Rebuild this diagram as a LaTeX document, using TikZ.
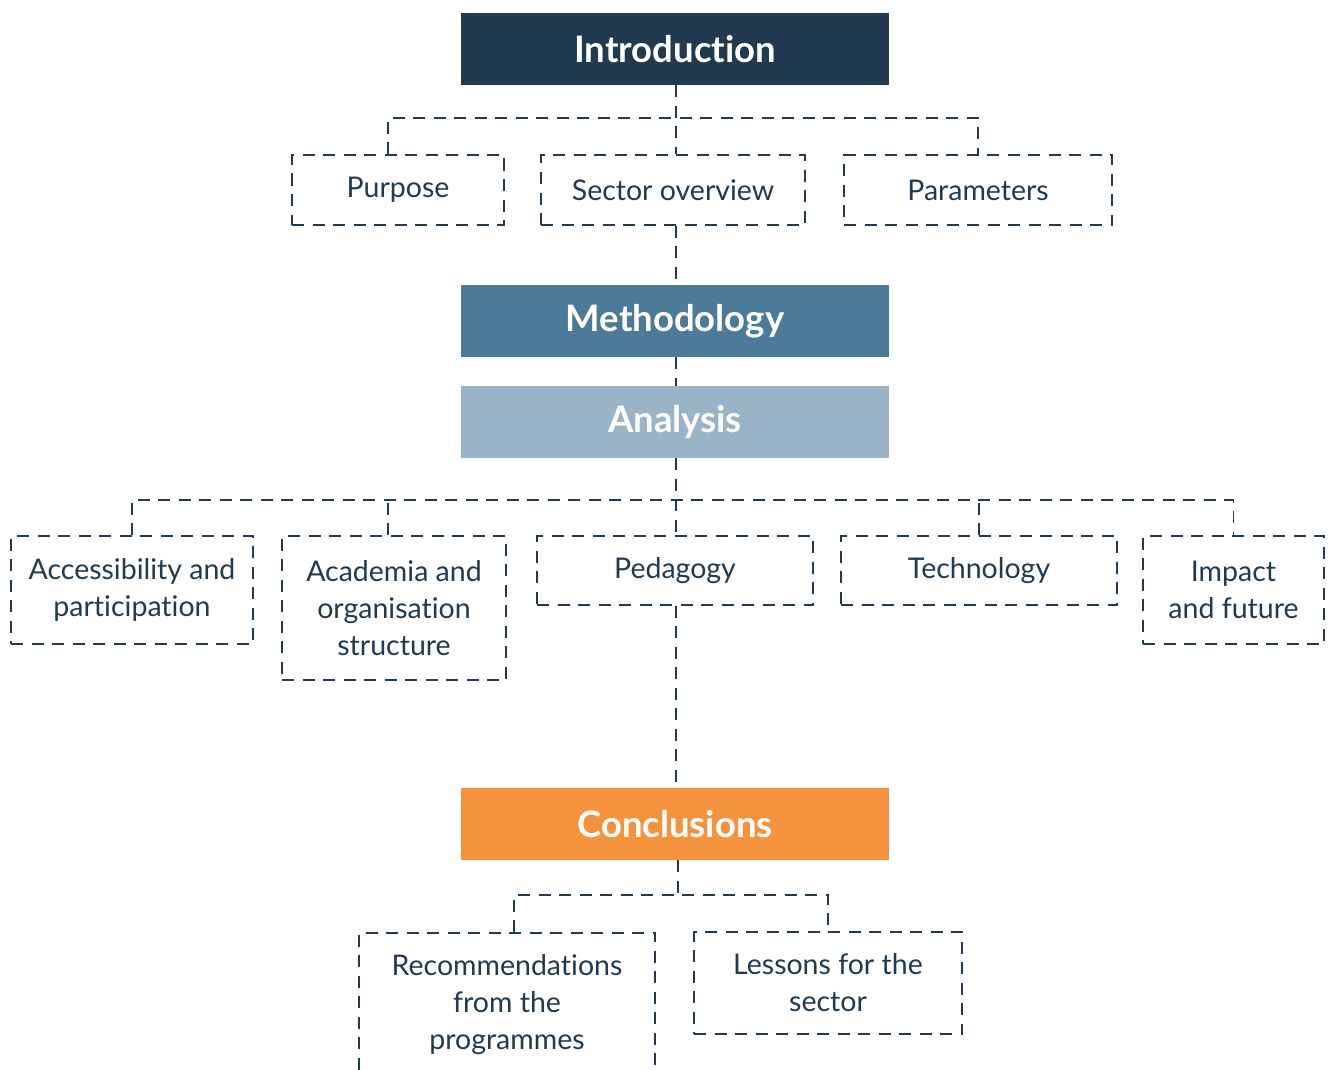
\documentclass[tikz,border=0pt]{standalone}
\usepackage{fontspec}
\setmainfont{Lato}[Ligatures={NoCommon,NoContextual}]
\definecolor{navy}{HTML}{213A4F}
\definecolor{steel}{HTML}{4C7A99}
\definecolor{pale}{HTML}{98B4C6}
\definecolor{orangeC}{HTML}{F5923E}
\begin{document}
\begin{tikzpicture}[x=1pt,y=-1pt,
  title/.style={rectangle, minimum width=428pt, minimum height=72pt, inner sep=0pt,
    text=white, font=\fontsize{36.5}{42}\selectfont\bfseries},
  sub/.style={rectangle, draw=navy, line width=1.9pt, dash pattern=on 12pt off 8.5pt,
    inner sep=0pt, align=center, text=navy, font=\fontsize{28.5}{37}\selectfont},
  conn/.style={draw=navy, line width=1.9pt, dash pattern=on 12pt off 8.5pt}]
\useasboundingbox (0,0) rectangle (1328,1070);
\clip (0,0) rectangle (1328,1070);

% main stages
\node[title, fill=navy] (intro) at (675,49) {Introduction};
\node[title, fill=steel] (meth) at (675,321) {Methodology};
\node[title, fill=pale] (anal) at (675,422) {Analysis};
\node[title, fill=orangeC] (concl) at (675,824) {Conclusions};

% introduction children
\node[sub, minimum width=212pt, minimum height=70pt] (purpose) at (398,190) {Purpose};
\node[sub, minimum width=264pt, minimum height=70pt] (sector) at (673,190) {Sector overview};
\node[sub, minimum width=268pt, minimum height=70pt] (params) at (978,190) {Parameters};

% analysis children
\node[sub, minimum width=242pt, minimum height=108pt] (access) at (132,590) {Accessibility and\\participation};
\node[sub, minimum width=224pt, minimum height=144pt] (academia) at (394,608) {Academia and\\organisation\\structure};
\node[sub, minimum width=276pt, minimum height=69pt] (peda) at (675,570.5) {Pedagogy};
\node[sub, minimum width=276pt, minimum height=69pt] (tech) at (979,570.5) {Technology};
\node[sub, minimum width=181pt, minimum height=108pt] (impact) at (1233.5,590) {Impact\\and future};

% conclusion children
\node[sub, minimum width=296pt, minimum height=144pt, anchor=north] (recom) at (507,932) {Recommendations\\from the\\programmes};
\node[sub, minimum width=268pt, minimum height=102pt] (lessons) at (828,983) {Lessons for the\\sector};

% bus coordinates
\coordinate (b1) at (676,118);
\coordinate (b2) at (676,500);
\coordinate (b3) at (678,895);

% introduction connectors
\draw[conn] ([xshift=1pt]intro.south) -- ([xshift=3pt]sector.north);
\draw[conn] ([xshift=-10pt]purpose.north) |- (b1) -| (params.north);
\draw[conn] ([xshift=3pt]sector.south) -- ([xshift=1pt]meth.north);
\draw[conn] ([xshift=1pt]meth.south) -- ([xshift=1pt]anal.north);

% analysis connectors
\draw[conn] ([xshift=1pt]anal.south) -- ([xshift=1pt]peda.north);
\draw[conn] (access.north) |- (b2) -| (impact.north);
\draw[conn] ([xshift=-6pt]academia.north) -- ([xshift=-6pt]academia.north |- b2);
\draw[conn] (tech.north) -- (tech.north |- b2);
\draw[conn] ([xshift=1pt]peda.south) -- ([xshift=1pt]concl.north);

% conclusion connectors
\draw[conn] ([xshift=3pt]concl.south) -- (b3);
\draw[conn] ([xshift=7pt]recom.north) |- (b3) -| (lessons.north);
\end{tikzpicture}
\end{document}
